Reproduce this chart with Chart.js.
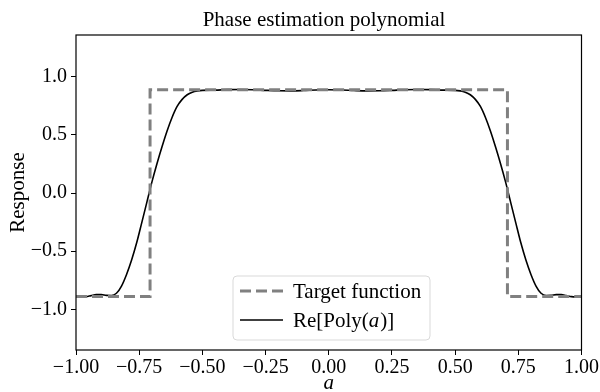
<!DOCTYPE html>
<html>
<head>
<meta charset="utf-8">
<script src="https://cdn.jsdelivr.net/npm/chart.js@4"></script>
<style>
  html, body { margin: 0; padding: 0; background: #fff; }
  #wrap { width: 600px; height: 392px; position: relative; }
</style>
</head>
<body>
<div id="wrap"><canvas id="chart" width="600" height="392"></canvas></div>
<script>
// ---- data ----
const targetX = [-1.0, -0.707, -0.707, 0.707, 0.707, 1.0];
const targetY = [-0.89, -0.89, 0.89, 0.89, -0.89, -0.89];

const polyX = [
  -1.00, -0.98, -0.96, -0.94, -0.92, -0.90, -0.88, -0.86, -0.84, -0.82,
  -0.80, -0.78, -0.76, -0.74, -0.72, -0.70, -0.68, -0.66, -0.64, -0.62,
  -0.60, -0.58, -0.56, -0.54, -0.52, -0.50, -0.45, -0.40, -0.35, -0.30,
  -0.25, -0.20, -0.15, -0.10, -0.05, 0.00,
  0.05, 0.10, 0.15, 0.20, 0.25, 0.30, 0.35, 0.40, 0.45, 0.50,
  0.52, 0.54, 0.56, 0.58, 0.60, 0.62, 0.64, 0.66, 0.68, 0.70,
  0.72, 0.74, 0.76, 0.78, 0.80, 0.82, 0.84, 0.86, 0.88, 0.90,
  0.92, 0.94, 0.96, 0.98, 1.00
];
const polyY = [
  -0.886, -0.893, -0.891, -0.882, -0.874, -0.874, -0.880, -0.881, -0.862, -0.800,
  -0.700, -0.576, -0.428, -0.256, -0.082, 0.092, 0.250, 0.396, 0.532, 0.650,
  0.745, 0.806, 0.846, 0.868, 0.879, 0.884, 0.886, 0.890, 0.891, 0.889,
  0.884, 0.880, 0.879, 0.882, 0.887, 0.889,
  0.887, 0.882, 0.879, 0.880, 0.884, 0.889, 0.891, 0.890, 0.886, 0.884,
  0.879, 0.868, 0.846, 0.806, 0.745, 0.650, 0.532, 0.396, 0.250, 0.092,
  -0.082, -0.256, -0.428, -0.576, -0.700, -0.800, -0.862, -0.881, -0.880, -0.874,
  -0.874, -0.882, -0.891, -0.893, -0.886
];

const xTicks = [-1.0, -0.75, -0.5, -0.25, 0.0, 0.25, 0.5, 0.75, 1.0];
const yTicks = [-1.0, -0.5, 0.0, 0.5, 1.0];

const titleText = 'Phase estimation polynomial';
const xLabel = 'a';
const yLabel = 'Response';

// ---- styling ----
const serif = "'Liberation Serif', 'Times New Roman', serif";
const tickFont = { family: serif, size: 20 };
const minus = s => s.replace('-', '\u2212');

const frameAndText = {
  id: 'frameAndText',
  afterDraw(chart) {
    const { ctx, chartArea: a } = chart;
    ctx.save();
    // axes frame
    ctx.strokeStyle = '#000';
    ctx.lineWidth = 1.2;
    ctx.strokeRect(a.left, a.top, a.right - a.left, a.bottom - a.top);

    // title
    ctx.fillStyle = '#000';
    ctx.font = '21px ' + serif;
    ctx.textAlign = 'center';
    ctx.textBaseline = 'alphabetic';
    ctx.fillText(titleText, 324, 26);

    // x label (italic)
    ctx.font = 'italic 21px ' + serif;
    ctx.fillText(xLabel, (a.left + a.right) / 2, 389);

    // y label
    ctx.font = '21px ' + serif;
    ctx.translate(24, (a.top + a.bottom) / 2);
    ctx.rotate(-Math.PI / 2);
    ctx.fillText(yLabel, 0, 0);
    ctx.restore();

    // legend
    const lx = 233, ly = 276, lw = 197, lh = 64;
    ctx.save();
    ctx.beginPath();
    ctx.roundRect(lx, ly, lw, lh, 4);
    ctx.fillStyle = 'rgba(255,255,255,0.8)';
    ctx.fill();
    ctx.strokeStyle = '#d9d9d9';
    ctx.lineWidth = 1;
    ctx.stroke();

    const ds = chart.data.datasets;
    const rows = [291, 320];
    ds.forEach((d, i) => {
      const y = rows[i];
      ctx.beginPath();
      ctx.strokeStyle = d.borderColor;
      ctx.lineWidth = d.borderWidth;
      ctx.setLineDash(d.borderDash || []);
      ctx.moveTo(240, y);
      ctx.lineTo(283, y);
      ctx.stroke();
      ctx.setLineDash([]);
    });
    ctx.fillStyle = '#000';
    ctx.textAlign = 'left';
    ctx.textBaseline = 'middle';
    ctx.font = '21px ' + serif;
    ctx.fillText('Target function', 293, rows[0] + 1);
    // Re[Poly(a)] with italic a
    let x = 293;
    const parts = [['Re[Poly(', false], ['a', true], [')]', false]];
    parts.forEach(([t, it]) => {
      ctx.font = (it ? 'italic ' : '') + '21px ' + serif;
      ctx.fillText(t, x, rows[1] + 1);
      x += ctx.measureText(t).width + (it ? 1 : 0);
    });
    ctx.restore();
  }
};

new Chart(document.getElementById('chart'), {
  type: 'scatter',
  data: {
    datasets: [
      {
        label: 'Target function',
        data: targetX.map((v, i) => ({ x: v, y: targetY[i] })),
        showLine: true,
        borderColor: '#808080',
        borderWidth: 3,
        borderDash: [11, 5],
        pointRadius: 0,
        tension: 0
      },
      {
        label: 'Re[Poly(a)]',
        data: polyX.map((v, i) => ({ x: v, y: polyY[i] })),
        showLine: true,
        borderColor: '#000',
        borderWidth: 1.6,
        pointRadius: 0,
        cubicInterpolationMode: 'monotone'
      }
    ]
  },
  options: {
    responsive: false,
    animation: false,
    layout: { padding: { top: 35, right: 17, bottom: 0, left: 0 } },
    plugins: {
      legend: { display: false },
      title: { display: false },
      tooltip: { enabled: false }
    },
    scales: {
      x: {
        type: 'linear',
        min: -1,
        max: 1,
        afterFit: s => { s.height = 42; },
        afterBuildTicks: s => { s.ticks = xTicks.map(v => ({ value: v })); },
        ticks: {
          color: '#000',
          font: tickFont,
          padding: 1,
          maxRotation: 0,
          autoSkip: false,
          callback: v => minus(v.toFixed(2))
        },
        grid: { drawOnChartArea: false, drawTicks: true, tickLength: 5, color: '#000', lineWidth: 1 },
        border: { display: false }
      },
      y: {
        type: 'linear',
        min: -1.35,
        max: 1.36,
        afterFit: s => { s.width = 76; },
        afterBuildTicks: s => { s.ticks = yTicks.map(v => ({ value: v })); },
        ticks: {
          color: '#000',
          font: tickFont,
          padding: 4,
          autoSkip: false,
          callback: v => minus(v.toFixed(1))
        },
        grid: { drawOnChartArea: false, drawTicks: true, tickLength: 5, color: '#000', lineWidth: 1 },
        border: { display: false }
      }
    }
  },
  plugins: [frameAndText]
});
</script>
</body>
</html>
